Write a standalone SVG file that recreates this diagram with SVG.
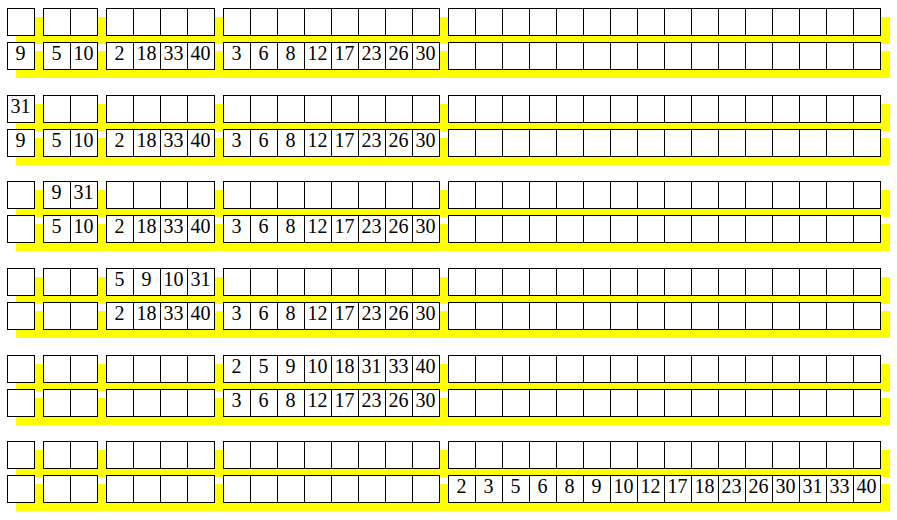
<svg xmlns="http://www.w3.org/2000/svg" xmlns:xlink="http://www.w3.org/1999/xlink" width="897" height="520" viewBox="0 0 897 520">
<style>
.sh{fill:#ffff00}
.c{fill:#fff;stroke:#000;stroke-width:1}
text{font-family:"Liberation Serif","Times New Roman",serif;font-size:20px;text-anchor:middle;fill:#000}
</style>
<defs>
<g id="cells">
<rect class="c" x="7.5" y="0.5" width="27" height="27"/>
<rect class="c" x="43.5" y="0.5" width="27" height="27"/><rect class="c" x="70.5" y="0.5" width="27" height="27"/>
<rect class="c" x="106.5" y="0.5" width="27" height="27"/><rect class="c" x="133.5" y="0.5" width="27" height="27"/><rect class="c" x="160.5" y="0.5" width="27" height="27"/><rect class="c" x="187.5" y="0.5" width="27" height="27"/>
<rect class="c" x="223.5" y="0.5" width="27" height="27"/><rect class="c" x="250.5" y="0.5" width="27" height="27"/><rect class="c" x="277.5" y="0.5" width="27" height="27"/><rect class="c" x="304.5" y="0.5" width="27" height="27"/><rect class="c" x="331.5" y="0.5" width="27" height="27"/><rect class="c" x="358.5" y="0.5" width="27" height="27"/><rect class="c" x="385.5" y="0.5" width="27" height="27"/><rect class="c" x="412.5" y="0.5" width="27" height="27"/>
<rect class="c" x="448.5" y="0.5" width="27" height="27"/><rect class="c" x="475.5" y="0.5" width="27" height="27"/><rect class="c" x="502.5" y="0.5" width="27" height="27"/><rect class="c" x="529.5" y="0.5" width="27" height="27"/><rect class="c" x="556.5" y="0.5" width="27" height="27"/><rect class="c" x="583.5" y="0.5" width="27" height="27"/><rect class="c" x="610.5" y="0.5" width="27" height="27"/><rect class="c" x="637.5" y="0.5" width="27" height="27"/><rect class="c" x="664.5" y="0.5" width="27" height="27"/><rect class="c" x="691.5" y="0.5" width="27" height="27"/><rect class="c" x="718.5" y="0.5" width="27" height="27"/><rect class="c" x="745.5" y="0.5" width="27" height="27"/><rect class="c" x="772.5" y="0.5" width="27" height="27"/><rect class="c" x="799.5" y="0.5" width="27" height="27"/><rect class="c" x="826.5" y="0.5" width="27" height="27"/><rect class="c" x="853.5" y="0.5" width="27" height="27"/>
</g>
</defs>
<g id="shadows">
<rect class="sh" x="16" y="17" width="874" height="27"/>
<rect class="sh" x="16" y="51" width="874" height="27"/>
<rect class="sh" x="16" y="104" width="874" height="27"/>
<rect class="sh" x="16" y="138" width="874" height="27"/>
<rect class="sh" x="16" y="190" width="874" height="27"/>
<rect class="sh" x="16" y="224" width="874" height="27"/>
<rect class="sh" x="16" y="277" width="874" height="27"/>
<rect class="sh" x="16" y="311" width="874" height="27"/>
<rect class="sh" x="16" y="364" width="874" height="27"/>
<rect class="sh" x="16" y="398" width="874" height="27"/>
<rect class="sh" x="16" y="450" width="874" height="27"/>
<rect class="sh" x="16" y="484" width="874" height="27"/>
</g>
<g id="row1-top"><use xlink:href="#cells" href="#cells" transform="translate(0,8)"/></g>
<g id="row1-bottom"><use xlink:href="#cells" href="#cells" transform="translate(0,42)"/>
<text x="20.5" y="60">9</text>
<text x="56.5" y="60">5</text><text x="83.5" y="60">10</text>
<text x="119.5" y="60">2</text><text x="146.5" y="60">18</text><text x="173.5" y="60">33</text><text x="200.5" y="60">40</text>
<text x="236.5" y="60">3</text><text x="263.5" y="60">6</text><text x="290.5" y="60">8</text><text x="317.5" y="60">12</text><text x="344.5" y="60">17</text><text x="371.5" y="60">23</text><text x="398.5" y="60">26</text><text x="425.5" y="60">30</text>
</g>
<g id="row2-top"><use xlink:href="#cells" href="#cells" transform="translate(0,95)"/>
<text x="20.5" y="113">31</text>
</g>
<g id="row2-bottom"><use xlink:href="#cells" href="#cells" transform="translate(0,129)"/>
<text x="20.5" y="147">9</text>
<text x="56.5" y="147">5</text><text x="83.5" y="147">10</text>
<text x="119.5" y="147">2</text><text x="146.5" y="147">18</text><text x="173.5" y="147">33</text><text x="200.5" y="147">40</text>
<text x="236.5" y="147">3</text><text x="263.5" y="147">6</text><text x="290.5" y="147">8</text><text x="317.5" y="147">12</text><text x="344.5" y="147">17</text><text x="371.5" y="147">23</text><text x="398.5" y="147">26</text><text x="425.5" y="147">30</text>
</g>
<g id="row3-top"><use xlink:href="#cells" href="#cells" transform="translate(0,181)"/>
<text x="56.5" y="199">9</text><text x="83.5" y="199">31</text>
</g>
<g id="row3-bottom"><use xlink:href="#cells" href="#cells" transform="translate(0,215)"/>
<text x="56.5" y="233">5</text><text x="83.5" y="233">10</text>
<text x="119.5" y="233">2</text><text x="146.5" y="233">18</text><text x="173.5" y="233">33</text><text x="200.5" y="233">40</text>
<text x="236.5" y="233">3</text><text x="263.5" y="233">6</text><text x="290.5" y="233">8</text><text x="317.5" y="233">12</text><text x="344.5" y="233">17</text><text x="371.5" y="233">23</text><text x="398.5" y="233">26</text><text x="425.5" y="233">30</text>
</g>
<g id="row4-top"><use xlink:href="#cells" href="#cells" transform="translate(0,268)"/>
<text x="119.5" y="286">5</text><text x="146.5" y="286">9</text><text x="173.5" y="286">10</text><text x="200.5" y="286">31</text>
</g>
<g id="row4-bottom"><use xlink:href="#cells" href="#cells" transform="translate(0,302)"/>
<text x="119.5" y="320">2</text><text x="146.5" y="320">18</text><text x="173.5" y="320">33</text><text x="200.5" y="320">40</text>
<text x="236.5" y="320">3</text><text x="263.5" y="320">6</text><text x="290.5" y="320">8</text><text x="317.5" y="320">12</text><text x="344.5" y="320">17</text><text x="371.5" y="320">23</text><text x="398.5" y="320">26</text><text x="425.5" y="320">30</text>
</g>
<g id="row5-top"><use xlink:href="#cells" href="#cells" transform="translate(0,355)"/>
<text x="236.5" y="373">2</text><text x="263.5" y="373">5</text><text x="290.5" y="373">9</text><text x="317.5" y="373">10</text><text x="344.5" y="373">18</text><text x="371.5" y="373">31</text><text x="398.5" y="373">33</text><text x="425.5" y="373">40</text>
</g>
<g id="row5-bottom"><use xlink:href="#cells" href="#cells" transform="translate(0,389)"/>
<text x="236.5" y="407">3</text><text x="263.5" y="407">6</text><text x="290.5" y="407">8</text><text x="317.5" y="407">12</text><text x="344.5" y="407">17</text><text x="371.5" y="407">23</text><text x="398.5" y="407">26</text><text x="425.5" y="407">30</text>
</g>
<g id="row6-top"><use xlink:href="#cells" href="#cells" transform="translate(0,441)"/></g>
<g id="row6-bottom"><use xlink:href="#cells" href="#cells" transform="translate(0,475)"/>
<text x="461.5" y="493">2</text><text x="488.5" y="493">3</text><text x="515.5" y="493">5</text><text x="542.5" y="493">6</text><text x="569.5" y="493">8</text><text x="596.5" y="493">9</text><text x="623.5" y="493">10</text><text x="650.5" y="493">12</text><text x="677.5" y="493">17</text><text x="704.5" y="493">18</text><text x="731.5" y="493">23</text><text x="758.5" y="493">26</text><text x="785.5" y="493">30</text><text x="812.5" y="493">31</text><text x="839.5" y="493">33</text><text x="866.5" y="493">40</text>
</g>
</svg>
